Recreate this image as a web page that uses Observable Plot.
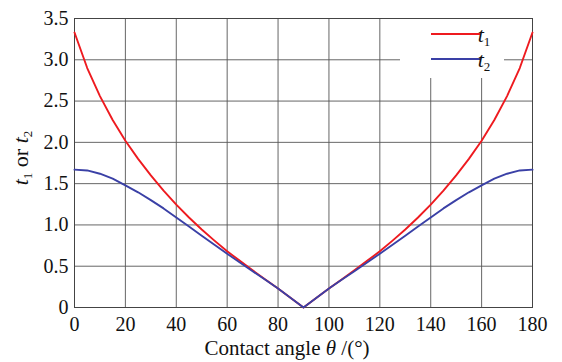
<!DOCTYPE html>
<html>
<head>
<meta charset="utf-8">
<script src="https://cdn.jsdelivr.net/npm/d3@7"></script>
<script src="https://cdn.jsdelivr.net/npm/@observablehq/plot@0.6"></script>
<style>
  html, body { margin: 0; padding: 0; background: #fff; }
  #chart { position: relative; width: 562px; height: 362px; }
  #chart svg, #chart svg text, #chart svg tspan { font-family: "Liberation Serif", "Times New Roman", serif !important; }
</style>
</head>
<body>
<div id="chart"></div>
<script>
// Contact angle (degrees)
const theta = [0, 5, 10, 15, 20, 25, 30, 35, 40, 45, 50, 55, 60, 65, 70, 75, 80, 85, 90,
               95, 100, 105, 110, 115, 120, 125, 130, 135, 140, 145, 150, 155, 160, 165, 170, 175, 180];
// Series t1 (red)
const t1 = [3.33, 2.90, 2.56, 2.27, 2.02, 1.80, 1.60, 1.415, 1.245, 1.09, 0.945, 0.81, 0.68, 0.565, 0.45, 0.34, 0.23, 0.115, 0,
            0.115, 0.23, 0.34, 0.45, 0.565, 0.68, 0.81, 0.945, 1.09, 1.245, 1.415, 1.60, 1.80, 2.02, 2.27, 2.56, 2.90, 3.33];
// Series t2 (blue)
const t2 = [1.67, 1.66, 1.62, 1.56, 1.48, 1.395, 1.30, 1.20, 1.09, 0.98, 0.87, 0.76, 0.65, 0.545, 0.44, 0.335, 0.23, 0.115, 0,
            0.115, 0.23, 0.335, 0.44, 0.545, 0.65, 0.76, 0.87, 0.98, 1.09, 1.20, 1.30, 1.395, 1.48, 1.56, 1.62, 1.66, 1.67];
const xTicks = [0, 20, 40, 60, 80, 100, 120, 140, 160, 180];
const yTicks = [0, 0.5, 1.0, 1.5, 2.0, 2.5, 3.0, 3.5];
const seriesNames = ["t1", "t2"];
const seriesColors = ["#ee1a1f", "#3a40a6"];

const data = [];
theta.forEach((th, i) => {
  data.push({theta: th, value: t1[i], series: seriesNames[0]});
  data.push({theta: th, value: t2[i], series: seriesNames[1]});
});

const W = 562, H = 362;
const plot = Plot.plot({
  width: W,
  height: H,
  marginLeft: 74,
  marginRight: 30,
  marginTop: 18,
  marginBottom: 55,
  style: {fontFamily: "Liberation Serif, serif", fontSize: "20px", color: "#111", background: "#fff"},
  x: {domain: [0, 180], ticks: xTicks},
  y: {domain: [0, 3.5], ticks: yTicks},
  color: {domain: seriesNames, range: seriesColors},
  marks: [
    Plot.gridX(xTicks, {stroke: "#555", strokeOpacity: 0.9, strokeWidth: 1}),
    Plot.gridY(yTicks, {stroke: "#555", strokeOpacity: 0.9, strokeWidth: 1}),
    Plot.frame({stroke: "#444", strokeWidth: 1}),
    Plot.line(data, {x: "theta", y: "value", z: "series", stroke: "series", strokeWidth: 1.9, curve: "linear"}),
    Plot.axisX(xTicks, {tickSize: 0, tickPadding: 9, label: null, tickFormat: d => String(d)}),
    Plot.axisY(yTicks, {tickSize: 0, tickPadding: 6, label: null, tickFormat: d => d === 0 ? "0" : d.toFixed(1)})
  ]
});
document.getElementById("chart").appendChild(plot);

const svg = d3.select(plot);
// x-axis title
const xt = svg.append("text")
  .attr("x", 287).attr("y", 355)
  .attr("text-anchor", "middle")
  .attr("fill", "#111")
  .style("font-size", "21px");
xt.append("tspan").text("Contact angle ");
xt.append("tspan").style("font-style", "italic").text("θ");
xt.append("tspan").text(" /(°)");

// y-axis title
const yt = svg.append("text")
  .attr("transform", "translate(28,158) rotate(-90)")
  .attr("text-anchor", "middle")
  .attr("fill", "#111")
  .style("font-size", "22px");
yt.append("tspan").style("font-style", "italic").text("t");
yt.append("tspan").attr("dy", 4).style("font-size", "13px").text("1");
yt.append("tspan").attr("dy", -4).text(" or ");
yt.append("tspan").style("font-style", "italic").text("t");
yt.append("tspan").attr("dy", 4).style("font-size", "13px").text("2");

// legend
const lg = svg.append("g");
lg.append("rect").attr("x", 400).attr("y", 19).attr("width", 104).attr("height", 59).attr("fill", "#fff");
const legendY = [34, 59];
seriesNames.forEach((name, i) => {
  lg.append("line")
    .attr("x1", 431).attr("x2", 480)
    .attr("y1", legendY[i]).attr("y2", legendY[i])
    .attr("stroke", seriesColors[i]).attr("stroke-width", 1.9);
  const tx = lg.append("text")
    .attr("x", 484).attr("y", legendY[i] + 8)
    .attr("fill", "#111")
    .style("font-size", "22px");
  tx.append("tspan").style("font-style", "italic").text("t");
  tx.append("tspan").attr("dy", 4).style("font-size", "13px").text(name.slice(1));
});
</script>
</body>
</html>
